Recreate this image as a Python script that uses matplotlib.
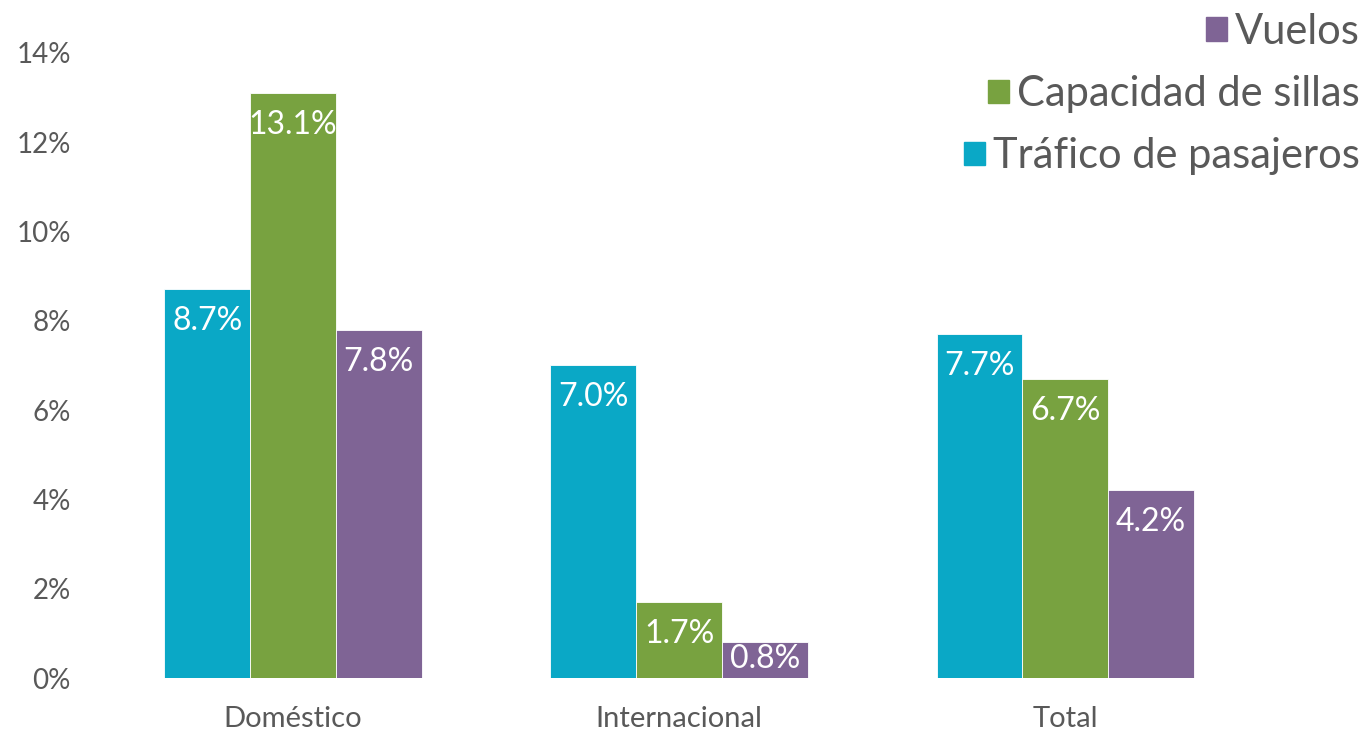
import matplotlib.pyplot as plt
import numpy as np
from matplotlib.patches import Patch

categorias = ["Doméstico", "Internacional", "Total"]
series = ["Tráfico de pasajeros", "Capacidad de sillas", "Vuelos"]
trafico = [8.7, 7.0, 7.7]
capacidad = [13.1, 1.7, 6.7]
vuelos = [7.8, 0.8, 4.2]
colores = ["#0AA8C6", "#78A240", "#7F6495"]
gris = "#595959"

plt.rcParams['font.family'] = ['Lato', 'DejaVu Sans']

fig = plt.figure(figsize=(13.69, 7.33), dpi=100)
ax = fig.add_axes([0.073, 0.075, 0.846, 0.853])

x = np.arange(len(categorias))
ancho = 0.222
valores = [trafico, capacidad, vuelos]

for i, (nombre, vals, c) in enumerate(zip(series, valores, colores)):
    pos = x + (i - 1) * ancho
    ax.bar(pos, vals, width=ancho, color=c, edgecolor="white", linewidth=0.6, label=nombre)
    for xp, v in zip(pos, vals):
        if v < 1.2:
            # barra muy corta: etiqueta pegada a la base
            ax.annotate(f"{v:.1f}%", (xp, 0), xytext=(0, 4), textcoords="offset pixels",
                        ha="center", va="bottom", color="white", fontsize=23)
        else:
            ax.annotate(f"{v:.1f}%", (xp, v), xytext=(0, -17), textcoords="offset pixels",
                        ha="center", va="top", color="white", fontsize=23)

ax.set_xlim(-0.5, 2.5)
ax.set_ylim(0, 14)
ax.set_yticks(range(0, 15, 2))
ax.set_yticklabels([f"{t}%" for t in range(0, 15, 2)])
ax.set_xticks(x)
ax.set_xticklabels(categorias)
ax.tick_params(axis="y", length=0, pad=21, labelsize=20, labelcolor=gris)
ax.tick_params(axis="x", length=0, pad=20, labelsize=21, labelcolor=gris)
for s in ax.spines.values():
    s.set_visible(False)

handles = [Patch(color=c) for c in colores][::-1]
leg = fig.legend(handles, series[::-1], loc="upper right", bbox_to_anchor=(1362 / 1369, 1 - 11 / 733),
                 frameon=False, fontsize=30, labelcolor=gris, handlelength=0.5,
                 handleheight=0.5, handletextpad=0.2, labelspacing=0.58, borderpad=0.05,
                 borderaxespad=0)
for col in leg._legend_handle_box.get_children():
    col.align = "right"

fig.savefig("out.png", dpi=100)
